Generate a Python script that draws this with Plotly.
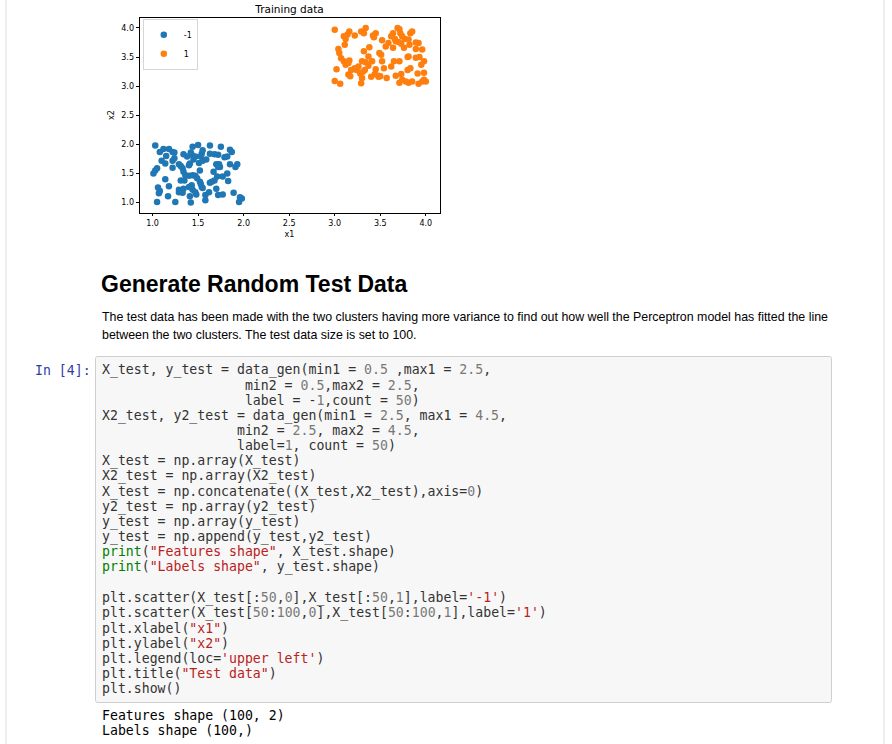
import re
import plotly.graph_objects as go

W, H = 892, 744

# training data
x1_neg = [1.03, 1.08, 1.12, 1.18, 1.22, 1.24, 1.15, 1.10, 1.14, 1.22, 1.22, 1.05, 1.03, 1.01, 1.14,
          1.18, 1.06, 1.08, 1.07, 1.17, 1.05, 1.25, 1.29, 1.34, 1.33, 1.41, 1.42, 1.34, 1.29, 1.31,
          1.33, 1.34, 1.36, 1.31, 1.35, 1.40, 1.41, 1.40, 1.44, 1.47, 1.44, 1.42, 1.43, 1.47, 1.45,
          1.50, 1.43, 1.44, 1.40, 1.47, 1.48, 1.52, 1.52, 1.53, 1.54, 1.55, 1.54, 1.53, 1.55, 1.59,
          1.55, 1.58, 1.58, 1.63, 1.68, 1.72, 1.63, 1.65, 1.62, 1.70, 1.72, 1.74, 1.73, 1.71, 1.68,
          1.70, 1.72, 1.77, 1.75, 1.79, 1.82, 1.85, 1.87, 1.82, 1.83, 1.85, 1.93, 1.91, 1.89, 1.95,
          1.98, 1.96, 1.24, 1.29, 1.51, 1.63, 1.77, 1.67, 1.49, 1.38]
x2_neg = [1.98, 1.87, 1.92, 1.92, 1.87, 1.86, 1.80, 1.72, 1.67, 1.72, 1.60, 1.59, 1.55, 1.50, 1.40,
          1.28, 1.26, 1.20, 1.16, 1.11, 1.01, 1.01, 1.22, 1.24, 1.17, 1.11, 1.00, 1.83, 1.66, 1.63,
          1.59, 1.53, 1.47, 1.38, 1.38, 1.64, 1.67, 1.46, 1.47, 1.46, 1.96, 1.86, 1.82, 1.79, 1.74,
          1.99, 1.30, 1.22, 1.27, 1.18, 1.14, 1.55, 1.36, 1.32, 1.27, 1.25, 1.84, 1.79, 1.72, 1.74,
          1.90, 1.13, 1.04, 1.98, 1.83, 1.82, 1.34, 1.36, 1.18, 1.66, 1.61, 1.61, 1.66, 1.45, 1.38,
          1.24, 1.13, 1.14, 1.96, 1.78, 1.79, 1.91, 1.87, 1.50, 1.37, 1.66, 1.66, 1.61, 1.17, 1.01,
          1.07, 1.09, 1.76, 1.18, 1.68, 1.84, 1.45, 1.53, 1.42, 1.79]
x1_pos = [3.00, 3.02, 3.00, 3.06, 3.04, 3.05, 3.07, 3.10, 3.12, 3.15, 3.16, 3.15, 3.11, 3.12, 3.14,
          3.16, 3.10, 3.22, 3.29, 3.34, 3.32, 3.42, 3.45, 3.43, 3.38, 3.32, 3.26, 3.30, 3.34, 3.37,
          3.28, 3.31, 3.33, 3.30, 3.29, 3.41, 3.44, 3.48, 3.45, 3.49, 3.51, 3.52, 3.54, 3.48, 3.57,
          3.56, 3.59, 3.62, 3.64, 3.66, 3.67, 3.69, 3.71, 3.72, 3.74, 3.70, 3.73, 3.77, 3.83, 3.85,
          3.82, 3.81, 3.89, 3.92, 3.89, 3.96, 3.93, 3.98, 3.95, 3.98, 3.96, 4.00, 3.92, 3.85, 3.81,
          3.78, 3.74, 3.71, 3.80, 3.83, 3.91, 3.80, 3.71, 3.65, 3.67, 3.62, 3.73, 3.81, 3.22, 3.50,
          3.40, 3.37, 3.18, 3.24, 3.64, 3.89, 3.98, 3.76, 3.52, 3.17]
x2_pos = [3.97, 3.29, 3.09, 3.04, 3.64, 3.57, 3.48, 3.43, 3.37, 3.40, 3.44, 3.20, 3.71, 3.81, 3.89,
          3.94, 3.86, 3.87, 3.94, 4.00, 3.91, 3.87, 3.91, 3.84, 3.67, 3.60, 3.34, 3.43, 3.41, 3.35,
          3.22, 3.25, 3.28, 3.14, 3.05, 3.43, 3.21, 3.18, 3.29, 3.57, 3.54, 3.43, 3.31, 3.16, 3.14,
          3.68, 3.74, 3.86, 3.91, 3.81, 3.77, 4.00, 3.98, 3.91, 3.86, 3.76, 3.73, 3.81, 3.91, 3.94,
          3.71, 3.80, 3.75, 3.74, 3.64, 3.63, 3.50, 3.43, 3.37, 3.11, 3.08, 3.08, 3.04, 3.08, 3.06,
          3.08, 3.11, 3.06, 3.28, 3.31, 3.22, 3.50, 3.43, 3.43, 3.18, 3.34, 3.21, 3.51, 3.31, 3.17,
          3.16, 3.51, 3.28, 3.28, 3.66, 3.49, 3.23, 3.66, 3.79, 3.17]
series_labels = ["-1", "1"]
tick_vals = [1.0, 1.5, 2.0, 2.5, 3.0, 3.5, 4.0]

heading = "Generate Random Test Data"
paragraph = [
    "The test data has been made with the two clusters having more variance to find out how well the Perceptron model has fitted the line",
    "between the two clusters. The test data size is set to 100.",
]
prompt = "In [4]:"
code_lines = [
    "X_test, y_test = data_gen(min1 = 0.5 ,max1 = 2.5,",
    "                  min2 = 0.5,max2 = 2.5,",
    "                  label = -1,count = 50)",
    "X2_test, y2_test = data_gen(min1 = 2.5, max1 = 4.5,",
    "                 min2 = 2.5, max2 = 4.5,",
    "                 label=1, count = 50)",
    "X_test = np.array(X_test)",
    "X2_test = np.array(X2_test)",
    "X_test = np.concatenate((X_test,X2_test),axis=0)",
    "y2_test = np.array(y2_test)",
    "y_test = np.array(y_test)",
    "y_test = np.append(y_test,y2_test)",
    'print("Features shape", X_test.shape)',
    'print("Labels shape", y_test.shape)',
    "",
    "plt.scatter(X_test[:50,0],X_test[:50,1],label='-1')",
    "plt.scatter(X_test[50:100,0],X_test[50:100,1],label='1')",
    'plt.xlabel("x1")',
    'plt.ylabel("x2")',
    "plt.legend(loc='upper left')",
    'plt.title("Test data")',
    "plt.show()",
]
output_lines = ["Features shape (100, 2)", "Labels shape (100,)"]


def px(x):
    return x / W


def py(y):
    return 1 - y / H


MONO = "DejaVu Sans Mono"
SANS = "Liberation Sans"
TOKEN = re.compile(r"(\"[^\"]*\"|'[^']*'|\bprint\b|\b\d+(?:\.\d+)?\b)")


def highlight(line):
    out = []
    for part in TOKEN.split(line):
        if not part:
            continue
        txt = part.replace(" ", "\u00a0")
        if part.startswith(("'", '"')):
            out.append(f"<span style='color:#BA2121'>{txt}</span>")
        elif part == "print":
            out.append(f"<span style='color:#008000'>{txt}</span>")
        elif re.fullmatch(r"\d+(?:\.\d+)?", part):
            out.append(f"<span style='color:#777777'>{txt}</span>")
        else:
            out.append(txt)
    return "".join(out) if out else "\u00a0"


fig = go.Figure()
fig.add_trace(go.Scatter(x=x1_neg, y=x2_neg, mode="markers", name=series_labels[0],
                         marker=dict(color="#1f77b4", size=6.5, line=dict(width=0))))
fig.add_trace(go.Scatter(x=x1_pos, y=x2_pos, mode="markers", name=series_labels[1],
                         marker=dict(color="#ff7f0e", size=6.5, line=dict(width=0))))

axis_common = dict(
    showline=True, mirror=True, linecolor="black", linewidth=0.8,
    showgrid=False, zeroline=False, ticks="outside", ticklen=3, tickwidth=0.8,
    tickcolor="black", tickvals=tick_vals, tickformat=".1f",
    tickfont=dict(family="DejaVu Sans", size=8, color="black"),
)

fig.update_layout(
    width=W, height=H,
    margin=dict(l=0, r=0, t=0, b=0),
    paper_bgcolor="white", plot_bgcolor="white",
    showlegend=True,
    xaxis=dict(domain=[px(139.5), px(439.5)], range=[0.857, 4.15],
               title=dict(text="x1", standoff=4, font=dict(family="DejaVu Sans", size=8, color="black")),
               **axis_common),
    yaxis=dict(domain=[py(212.5), py(17.5)], range=[0.83, 4.18],
               title=dict(text="x2", standoff=5, font=dict(family="DejaVu Sans", size=8, color="black")),
               **axis_common),
    legend=dict(x=px(143), y=py(19.5), xanchor="left", yanchor="top",
                bgcolor="rgba(255,255,255,0.8)", bordercolor="#cccccc", borderwidth=0.8,
                font=dict(family="DejaVu Sans", size=8, color="black"),
                itemwidth=30, tracegroupgap=0),
    title=dict(text="Training data", x=px(289.5), xanchor="center", y=py(9), yanchor="middle",
               font=dict(family="DejaVu Sans", size=10.5, color="black")),
)

# notebook frame and code box
shapes = [
    dict(type="line", xref="paper", yref="paper", x0=px(6), x1=px(6), y0=0, y1=1,
         line=dict(color="#dddddd", width=1)),
    dict(type="line", xref="paper", yref="paper", x0=px(884), x1=px(884), y0=0, y1=1,
         line=dict(color="#dddddd", width=1)),
]
bx0, bx1, by0, by1, r = 95.5, 831.5, 356.5, 702.5, 2
path = (f"M {bx0 + r},{by0} L {bx1 - r},{by0} Q {bx1},{by0} {bx1},{by0 + r} "
        f"L {bx1},{by1 - r} Q {bx1},{by1} {bx1 - r},{by1} L {bx0 + r},{by1} "
        f"Q {bx0},{by1} {bx0},{by1 - r} L {bx0},{by0 + r} Q {bx0},{by0} {bx0 + r},{by0} Z")


# convert path to paper coords
def to_paper(m):
    a, b = m.group(1), m.group(2)
    return f"{px(float(a)):.6f},{py(float(b)):.6f}"


path = re.sub(r"(-?\d+(?:\.\d+)?),(-?\d+(?:\.\d+)?)", to_paper, path)
shapes.append(dict(type="path", xref="paper", yref="paper", path=path,
                   fillcolor="#f7f7f7", line=dict(color="#cfcfcf", width=1), layer="below"))
fig.update_layout(shapes=shapes)

ann = []
ann.append(dict(text=f"<b>{heading}</b>", x=px(99), y=py(284), xanchor="left", yanchor="middle",
                font=dict(family=SANS, size=23, color="black")))
for i, t in enumerate(paragraph):
    ann.append(dict(text=t, x=px(100), y=py(317 + i * 18), xanchor="left", yanchor="middle",
                    font=dict(family=SANS, size=12.4, color="black")))
ann.append(dict(text=prompt.replace(" ", "\u00a0"), x=px(33), y=py(370), xanchor="left", yanchor="middle",
                font=dict(family=MONO, size=13.2, color="#303F9F")))
for i, line in enumerate(code_lines):
    ann.append(dict(text=highlight(line), x=px(100), y=py(370 + i * 15.19), xanchor="left",
                    yanchor="middle", font=dict(family=MONO, size=13.2, color="#333333")))
for i, line in enumerate(output_lines):
    ann.append(dict(text=line.replace(" ", "\u00a0"), x=px(100), y=py(715 + i * 15.19), xanchor="left",
                    yanchor="middle", font=dict(family=MONO, size=13.2, color="black")))
for a in ann:
    a.update(xref="paper", yref="paper", showarrow=False, align="left")
fig.update_layout(annotations=ann)

fig.write_html("out.html", config={"displayModeBar": False},
               post_script="document.body.style.margin='0px';")
